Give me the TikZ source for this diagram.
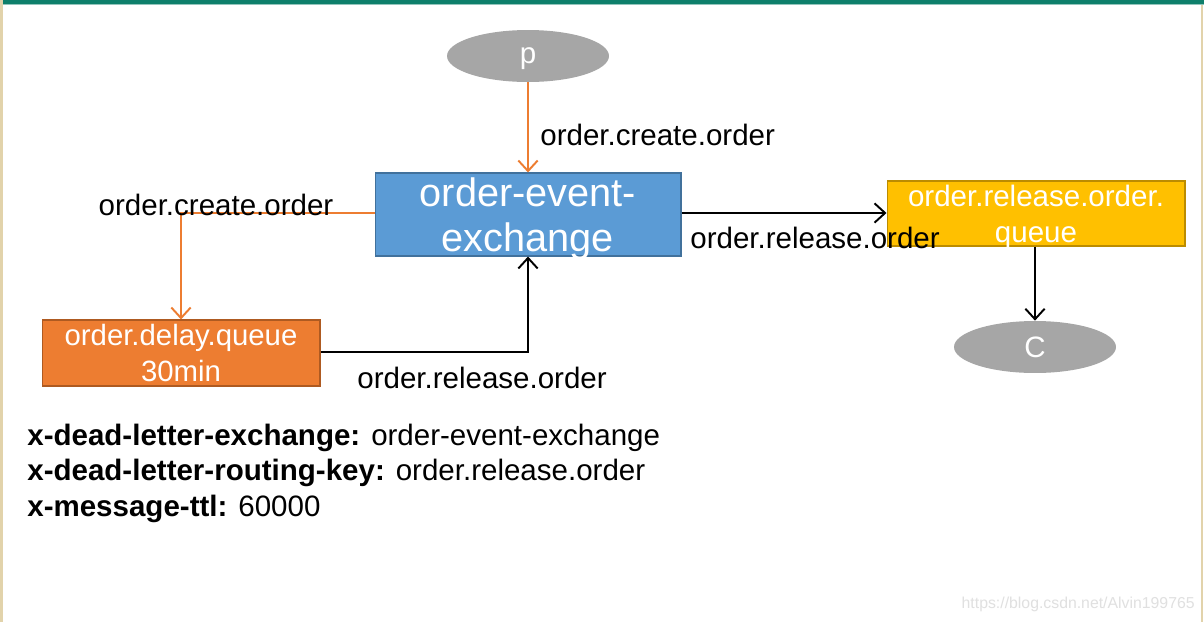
\documentclass[tikz,border=0pt]{standalone}
\usepackage{fontspec}
\setmainfont{Liberation Sans}
\usetikzlibrary{shapes.geometric,arrows.meta}
\definecolor{teal}{HTML}{0E7F6B}
\definecolor{beige}{HTML}{E2D3AB}
\definecolor{exblue}{HTML}{5B9BD5}
\definecolor{exborder}{HTML}{41719C}
\definecolor{delayorange}{HTML}{ED7D31}
\definecolor{delayborder}{HTML}{AE5A21}
\definecolor{relgold}{HTML}{FFC000}
\definecolor{relborder}{HTML}{BC8C00}
\definecolor{clientgray}{HTML}{A6A6A6}
\begin{document}
\begin{tikzpicture}[x=0.02cm,y=-0.02cm,
    client/.style={ellipse,fill=clientgray,minimum width=3.24cm,minimum height=1.04cm,
      text=white,font=\fontsize{16.8}{20}\selectfont,inner sep=0pt,text depth=0pt},
    box/.style={rectangle,text=white,align=center,inner sep=0pt,line width=0.6pt},
    route/.style={font=\fontsize{16.8}{20}\selectfont,inner sep=0pt},
    flow/.style={line width=1.1pt,-{Straight Barb[length=6pt,width=11pt,line width=1.1pt]}},
    oflow/.style={flow,draw=delayorange}]
    % page frame
    \useasboundingbox (0,0) rectangle (1204,622);
    \fill[white] (0,0) rectangle (1204,622);
    \fill[teal] (0,0) rectangle (1204,4);
    \fill[teal!45] (0,4) rectangle (1204,5);
    \fill[beige] (0,0) rectangle (3,622);
    \fill[beige] (1201,5) rectangle (1203,622);
    % producer and exchange
    \node[client] (p) at (528,56) {p};
    \node[box,fill=exblue,draw=exborder,minimum width=6.12cm,minimum height=1.66cm,text depth=0pt,
      font=\fontsize{22.6}{26}\selectfont] (exchange) at (528,214.5) {order-event-\\exchange};
    % queues
    \node[box,fill=delayorange,draw=delayborder,minimum width=5.56cm,minimum height=1.32cm,
      font=\fontsize{16.7}{20.4}\selectfont] (delay) at (181,353) {order.delay.queue\\30min};
    \node[box,fill=relgold,draw=relborder,minimum width=5.96cm,minimum height=1.30cm,text depth=0pt,
      font=\fontsize{16.8}{20.4}\selectfont] (release) at (1036,213.5) {order.release.order.\\queue};
    \node[client] (c) at (1035,347) {C};
    % connectors
    \draw[oflow] (p) -- (exchange);
    \draw[oflow] (exchange.west |- 0,213) -| (delay.north);
    \draw[flow] (delay.east |- 0,352) -| (exchange.south);
    \draw[flow] (exchange.east |- 0,213) -- (release.west |- 0,213);
    \draw[flow] (release.south -| c.north) -- (c.north);
    % routing keys
    \node[route,anchor=west] (k1) at (540,135) {order.create.order};
    \node[route] (k2) at (216,205) {order.create.order};
    \node[route,anchor=west] (k3) at (357,378) {order.release.order};
    \node[route,anchor=west] (k4) at (690,238) {order.release.order};
    % queue arguments
    \node[anchor=west,align=left,inner sep=0pt,font=\fontsize{16.8}{20.2}\selectfont] (args) at (27,473)
      {\textbf{x-dead-letter-exchange:} order-event-exchange\\
       \textbf{x-dead-letter-routing-key:} order.release.order\\
       \textbf{x-message-ttl:} 60000};
    \node[anchor=east,inner sep=0pt,text=black!12,font=\fontsize{9}{11}\selectfont] (mark) at (1195,604)
      {https://blog.csdn.net/Alvin199765};
\end{tikzpicture}
\end{document}
